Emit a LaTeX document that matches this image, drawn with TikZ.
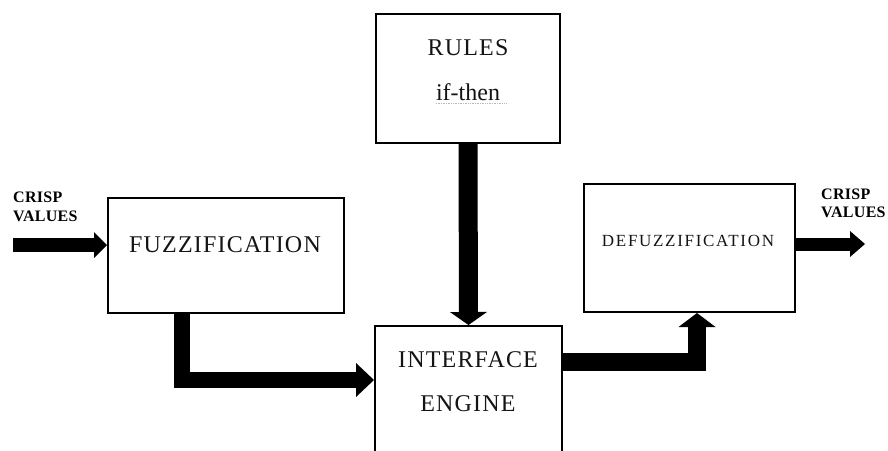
\documentclass[tikz,border=0pt]{standalone}
\usepackage{fontspec}
\setmainfont{Liberation Serif}
\usetikzlibrary{arrows.meta}
\newcommand\bigtxt{\fontsize{24}{24}\selectfont\addfontfeature{LetterSpace=5}}
\newcommand\midtxt{\fontsize{17}{17}\selectfont\addfontfeature{LetterSpace=10}}
\newcommand\smalltxt{\fontsize{16}{16}\selectfont\bfseries\addfontfeature{LetterSpace=2}}
\tikzset{
  box/.style={draw=black, line width=2pt, inner sep=0pt, fill=white},
  txt/.style={anchor=base, inner sep=0pt, text=black!92},
  lbl/.style={anchor=base west, inner sep=0pt, text=black, font=\smalltxt},
  blk/.style n args={3}{draw=black, line width=#1, line join=miter,
    -{Triangle[width=#2, length=#3, line width=0pt]}}
}
\begin{document}
\begin{tikzpicture}[x=1pt,y=-1pt]
\useasboundingbox[fill=white] (0,0) rectangle (888,450);

% boxes
\node[box, minimum width=236pt, minimum height=115pt] (fuzz) at (226,255.5) {};
\node[box, minimum width=184pt, minimum height=129pt] (rules) at (468,78.5) {};
\node[box, minimum width=187pt, minimum height=144pt] (iface) at (468.5,398) {};
\node[box, minimum width=211pt, minimum height=128pt] (defuzz) at (689.5,248) {};

% texts
\node[txt, font=\bigtxt] (tfuzz) at (225,252) {FUZZIFICATION};
\node[txt, font=\bigtxt] (trules) at (468,55) {RULES};
\node[txt, font=\bigtxt\addfontfeature{LetterSpace=0}] (tif) at (468,100) {if-then};
\draw[gray!55, line width=0.7pt, densely dotted] (tif.base west) ++(0,3.5) -- ++(70,0);
\node[txt, font=\bigtxt] (tint) at (468,367) {INTERFACE};
\node[txt, font=\bigtxt] (teng) at (468,411) {ENGINE};
\node[txt, font=\midtxt] (tdef) at (688,246) {DEFUZZIFICATION};

\node[lbl] (cin1) at (13,202) {CRISP};
\node[lbl] (cin2) at (13,221) {VALUES};
\node[lbl] (cout1) at (821,199) {CRISP};
\node[lbl] (cout2) at (821,217) {VALUES};

% connectors
\coordinate (inL) at (13,245);
\draw[blk={14pt}{26pt}{13pt}] (inL) -- (inL -| fuzz.west);

\draw[blk={19pt}{37pt}{13pt}] (rules.south) -- (iface.north);

\coordinate (c1) at (181.5,380);
\draw[blk={16pt}{34pt}{18pt}] (c1 |- fuzz.south) |- (c1 -| iface.west);

\coordinate (c2) at (697,362);
\draw[blk={18pt}{37pt}{14pt}] (c2 -| iface.east) -| (c2 |- defuzz.south);

\coordinate (outR) at (865,244);
\draw[blk={13pt}{26pt}{15pt}] (outR -| defuzz.east) -- (outR);
\end{tikzpicture}
\end{document}
